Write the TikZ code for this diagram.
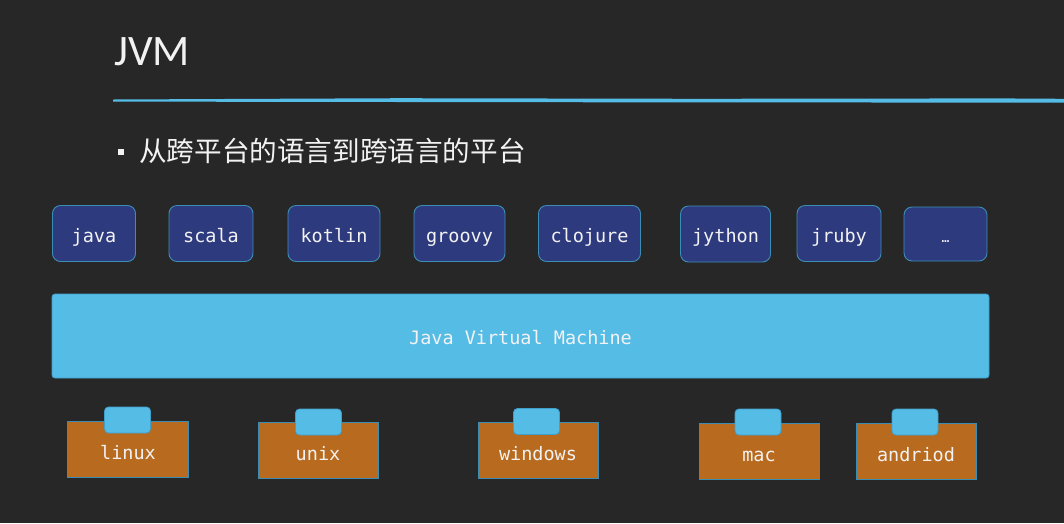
\documentclass[tikz,border=0pt]{standalone}
\usepackage{fontspec}
\setmainfont{Carlito}
\newfontfamily\monof{DejaVu Sans Mono}
\newfontfamily\cjkf{Noto Sans CJK SC}
\definecolor{bgc}{HTML}{272727}
\definecolor{navy}{HTML}{2E3A7E}
\definecolor{navyedge}{HTML}{3C8DB4}
\definecolor{lblue}{HTML}{55BCE6}
\definecolor{lblueedge}{HTML}{3F9FCB}
\definecolor{orng}{HTML}{B86A1F}
\definecolor{txtc}{HTML}{F2F2F2}
\tikzset{
  monotext/.style={text=txtc, font=\monof\fontsize{18.5}{20}\selectfont,
    text height=21pt, text depth=4pt},
  lang/.style={draw=navyedge, line width=0.9pt, fill=navy, rounded corners=8pt,
    monotext, inner sep=0pt, minimum height=56pt},
  osbox/.style={draw=navyedge, line width=0.9pt, fill=orng, inner sep=0pt,
    minimum width=120pt, minimum height=56pt},
  ostab/.style={draw=lblueedge, line width=0.8pt, fill=lblue, rounded corners=4pt,
    inner sep=0pt, minimum width=46pt, minimum height=26pt},
  oslabel/.style={monotext, inner sep=0pt},
}
\begin{document}
\begin{tikzpicture}[x=1pt,y=-1pt]
\fill[bgc] (0,0) rectangle (1064,523);
\useasboundingbox (0,0) rectangle (1064,523);
% title
\node[anchor=base west, inner sep=0pt, text=txtc, font=\fontsize{43.5}{48}\selectfont] (title) at (114,65) {JVM};
% blue rule
\coordinate (ruleA) at (113,99.5);
\fill[lblue] (ruleA) -- (400,98.2) -- (700,98.8) -- (1000,98.4) -- (1064,98.8) -- (1064,102.6) -- (700,102.4) -- (400,102.0) -- (113,101.6) -- cycle;
% bullet
\node[fill=txtc, inner sep=0pt, minimum size=6pt] (bullet) at (121,152) {};
\node[anchor=base west, inner sep=0pt, text=txtc, font=\cjkf\fontsize{27.6}{32}\selectfont] (subtitle) at (139,161) {从跨平台的语言到跨语言的平台};
% language boxes
\node[lang, minimum width=83pt] (java) at (94,233.5) {java};
\node[lang, minimum width=84pt] (scala) at (211,233.5) {scala};
\node[lang, minimum width=92pt] (kotlin) at (334,233.5) {kotlin};
\node[lang, minimum width=91pt] (groovy) at (459.5,233.5) {groovy};
\node[lang, minimum width=102pt] (clojure) at (589.5,233.5) {clojure};
\node[lang, minimum width=90pt] (jython) at (725.5,234) {jython};
\node[lang, minimum width=84pt] (jruby) at (839,233.5) {jruby};
\node[lang, minimum width=83pt, minimum height=54pt] (more) at (945.5,234) {\fontsize{13}{14}\selectfont …};
% JVM bar
\node[draw=lblueedge, line width=0.8pt, fill=lblue, rounded corners=3pt, inner sep=0pt,
  minimum width=937pt, minimum height=84pt, monotext] (jvm) at (520.5,336) {Java Virtual Machine};
% OS boxes
\node[osbox, minimum width=121pt] (linux) at (127.5,449) {};
\node[osbox] (unix) at (318,450) {};
\node[osbox] (windows) at (538,450.5) {};
\node[osbox] (mac) at (759,451) {};
\node[osbox] (andriod) at (916,451) {};
\node[ostab] (linuxtab) at (127.5,420) {};
\node[ostab] (unixtab) at (318.5,422) {};
\node[ostab] (windowstab) at (536.5,421.5) {};
\node[ostab] (mactab) at (758,422) {};
\node[ostab] (andriodtab) at (915,422) {};
\node[oslabel] (linuxlbl) at (128,451) {linux};
\node[oslabel] (unixlbl) at (318,452) {unix};
\node[oslabel] (windowslbl) at (538,452) {windows};
\node[oslabel] (maclbl) at (759,453) {mac};
\node[oslabel] (andriodlbl) at (916,453) {andriod};
\end{tikzpicture}
\end{document}
